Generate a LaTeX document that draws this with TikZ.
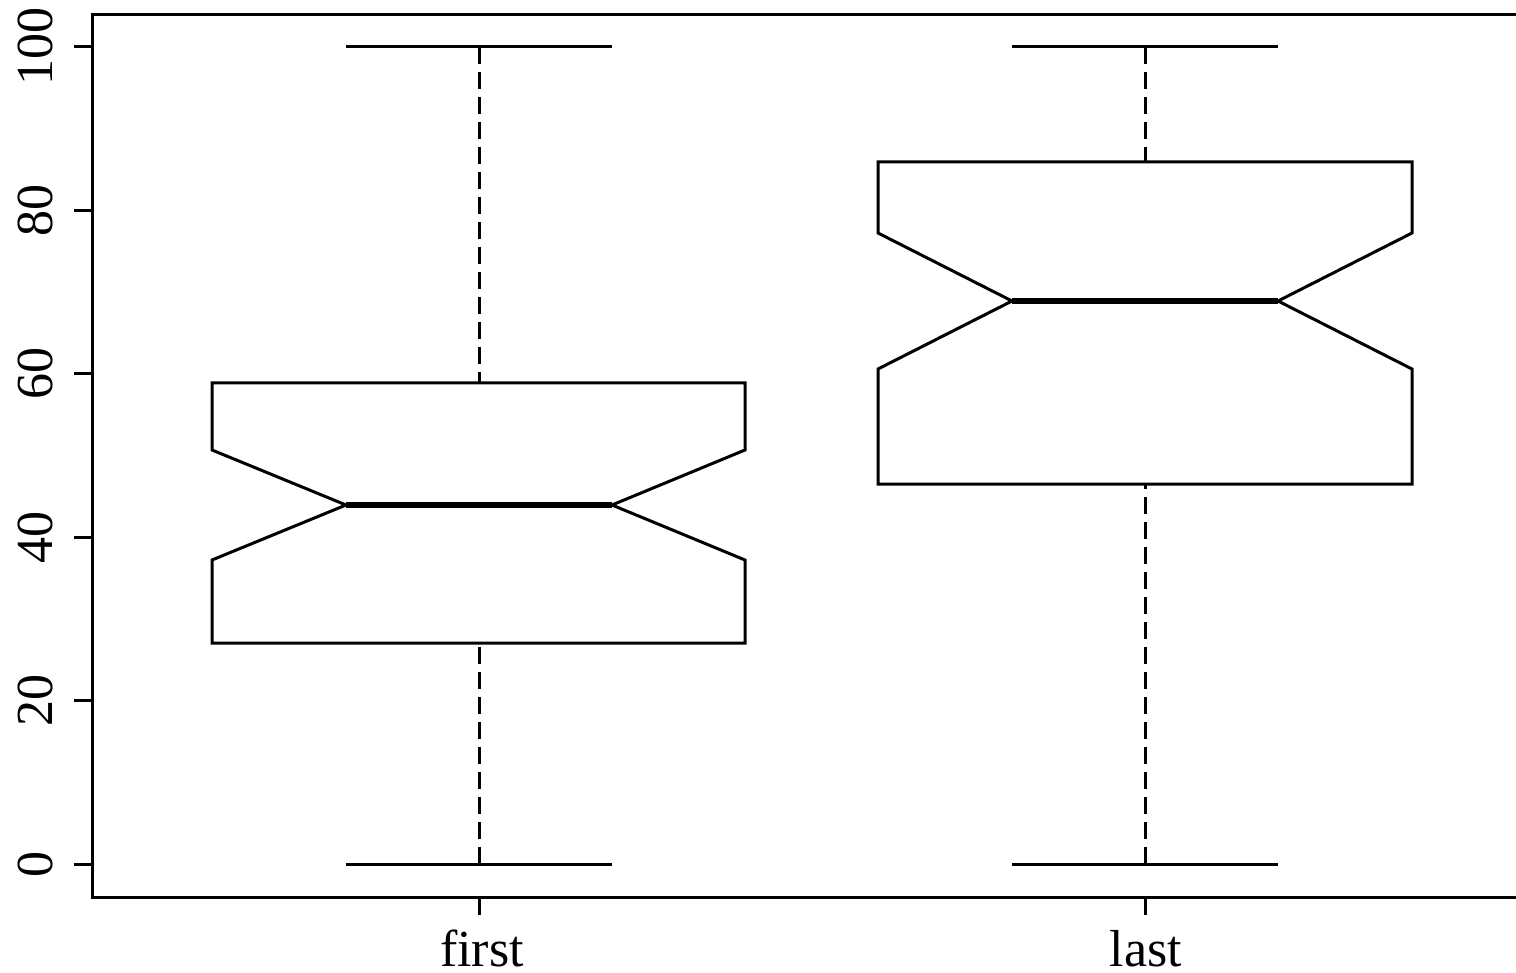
\documentclass[tikz,border=0pt]{standalone}
\usepackage{fontspec}
\setmainfont{Liberation Serif}
\begin{document}
\begin{tikzpicture}[x=0.5pt,y=-0.5pt,
  axisline/.style={line width=1.5pt},
  boxline/.style={line width=1.5pt, line join=miter},
  medline/.style={line width=3pt},
  whisk/.style={line width=1.5pt, dash pattern=on 8.5pt off 4pt},
  ticklab/.style={font=\fontsize{26}{31}\selectfont, inner sep=0pt},
  catlab/.style={ticklab, text depth=0pt}]
\useasboundingbox (0,0) rectangle (1516,973);
% frame
\draw[axisline] (1530,15) -- (92,15) -- (92,897) -- (1530,897);
% y ticks
\foreach \v/\yy in {0/864,20/700.6,40/537.2,60/373.8,80/210.4,100/47}{
  \draw[axisline] (74,\yy) -- (92,\yy);
  \node[ticklab, rotate=90, anchor=base] (yl\v) at (52,\yy) {\v};
}
% x ticks
\draw[axisline] (479,897) -- (479,915);
\draw[axisline] (1145,897) -- (1145,915);
\node[catlab, anchor=base] (xfirst) at (482,966) {first};
\node[catlab, anchor=base] (xlast) at (1146,966) {last};
% box 1
\draw[whisk] (479,47) -- (479,383);
\draw[whisk] (479,864) -- (479,643);
\draw[axisline] (346,47) -- (612,47);
\draw[axisline] (346,864) -- (612,864);
\draw[boxline] (212,383) -- (745,383) -- (745,450) -- (612,505) -- (745,560) -- (745,643) -- (212,643) -- (212,560) -- (346,505) -- (212,450) -- cycle;
\draw[medline] (346,505) -- (612,505);
% box 2
\draw[whisk] (1145,47) -- (1145,162);
\draw[whisk] (1145,864) -- (1145,484);
\draw[axisline] (1012,47) -- (1278,47);
\draw[axisline] (1012,864) -- (1278,864);
\draw[boxline] (878,162) -- (1412,162) -- (1412,233) -- (1278,301) -- (1412,369) -- (1412,484) -- (878,484) -- (878,369) -- (1012,301) -- (878,233) -- cycle;
\draw[medline] (1012,301) -- (1278,301);
\end{tikzpicture}
\end{document}
